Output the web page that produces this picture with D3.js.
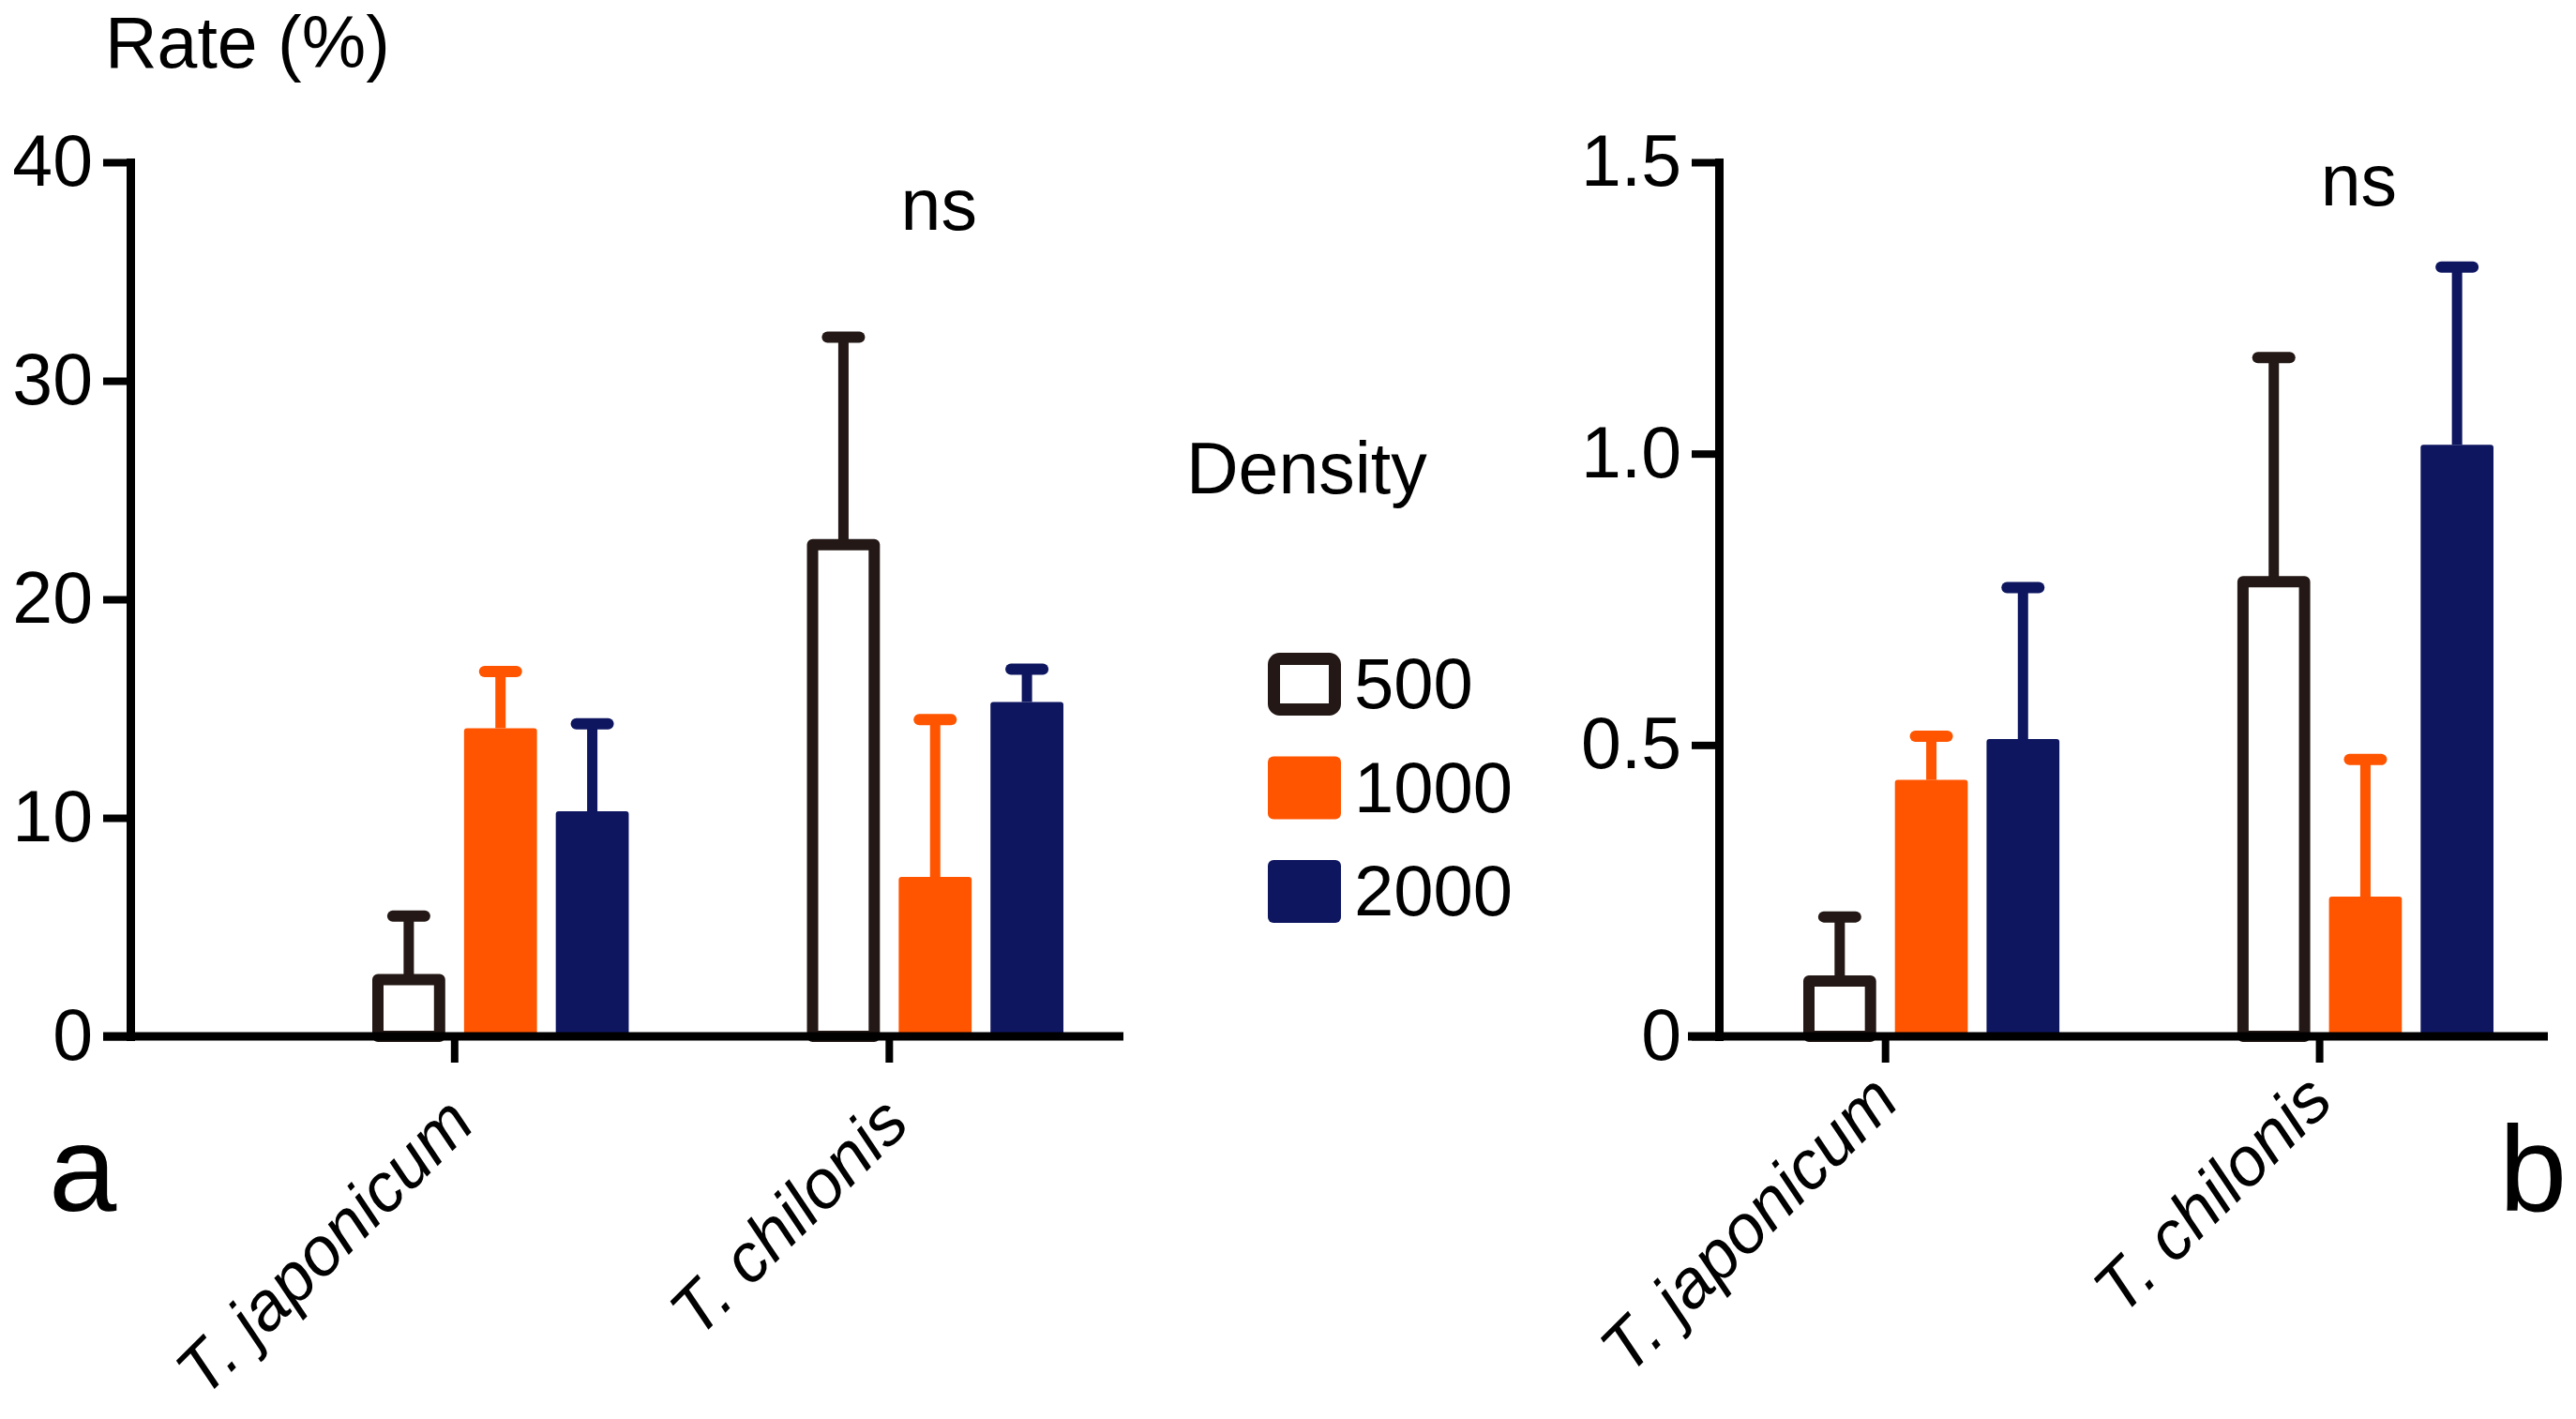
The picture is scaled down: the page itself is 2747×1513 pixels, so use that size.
<!DOCTYPE html>
<html lang="en">
<head>
<meta charset="UTF-8">
<title>Rate (%) by density</title>
<script src="https://d3js.org/d3.v7.min.js"></script>
<style>
  body { margin: 0; background: #fff; }
  svg { display: block; font-family: "Liberation Sans", Arial, sans-serif; }
</style>
</head>
<body>
<svg id="chart" width="2747" height="1513"></svg>
<script>
// species on the x axis, release densities as the grouped series
const categories = ["T. japonicum", "T. chilonis"];
const densities = ["500", "1000", "2000"];

// panel a: rows = categories, columns = densities (mean and upper error)
const meanA = [[2.6, 14.1, 10.3], [22.5, 7.3, 15.3]];
const errA  = [[2.9, 2.6, 4.0], [9.5, 7.2, 1.5]];
const ticksA = [0, 10, 20, 30, 40];
const tickLabelsA = ["0", "10", "20", "30", "40"];

// panel b
const meanB = [[0.095, 0.44, 0.51], [0.78, 0.24, 1.015]];
const errB  = [[0.11, 0.075, 0.26], [0.385, 0.235, 0.305]];
const ticksB = [0, 0.5, 1.0, 1.5];
const tickLabelsB = ["0", "0.5", "1.0", "1.5"];

const ink = "#231815";
const fills = { "500": "#ffffff", "1000": "#ff5500", "2000": "#0e1660" };
const strokes = { "500": ink, "1000": "#ff5500", "2000": "#0e1660" };

const svg = d3.select("#chart");

function drawPanel(p) {
    const g = svg.append("g");

    const y = d3.scaleLinear().domain([0, p.ticks[p.ticks.length - 1]]).range([p.y0, p.yTop]);
    const x0 = d3.scaleBand().domain(categories).range(p.groupRange).paddingInner(0.41);
    const x1 = d3.scaleBand().domain(densities).range([0, x0.bandwidth()]).paddingInner(0.205);

    const rows = [];
    categories.forEach((c, i) => {
        densities.forEach((d, j) => {
            rows.push({ cat: c, dens: d, mean: p.mean[i][j], err: p.err[i][j] });
        });
    });

    // error bars (upper only)
    const eb = g.append("g");
    eb.selectAll("line.stem")
        .data(rows)
        .enter().append("line")
        .attr("class", "stem")
        .attr("x1", d => x0(d.cat) + x1(d.dens) + x1.bandwidth() / 2)
        .attr("x2", d => x0(d.cat) + x1(d.dens) + x1.bandwidth() / 2)
        .attr("y1", d => y(d.mean))
        .attr("y2", d => y(d.mean + d.err))
        .attr("stroke", d => strokes[d.dens])
        .attr("stroke-width", 11);
    eb.selectAll("line.cap")
        .data(rows)
        .enter().append("line")
        .attr("class", "cap")
        .attr("x1", d => x0(d.cat) + x1(d.dens) + x1.bandwidth() / 2 - 17)
        .attr("x2", d => x0(d.cat) + x1(d.dens) + x1.bandwidth() / 2 + 17)
        .attr("y1", d => y(d.mean + d.err))
        .attr("y2", d => y(d.mean + d.err))
        .attr("stroke", d => strokes[d.dens])
        .attr("stroke-width", 12)
        .attr("stroke-linecap", "round");

    // bars
    const sw = 12;
    g.selectAll("rect.bar")
        .data(rows)
        .enter().append("rect")
        .attr("class", "bar")
        .attr("x", d => x0(d.cat) + x1(d.dens) + (d.dens === "500" ? sw / 2 : 0))
        .attr("width", d => x1.bandwidth() - (d.dens === "500" ? sw : 0))
        .attr("y", d => y(d.mean))
        .attr("height", d => p.y0 - y(d.mean))
        .attr("rx", d => d.dens === "500" ? 0 : 3)
        .attr("fill", d => fills[d.dens])
        .attr("stroke", d => d.dens === "500" ? ink : "none")
        .attr("stroke-width", sw)
        .attr("stroke-linejoin", "round");

    // y axis
    const yAxis = g.append("g")
        .attr("transform", `translate(${p.yAxisX},0)`)
        .call(d3.axisLeft(y)
            .tickValues(p.ticks)
            .tickFormat((d, i) => p.tickLabels[i])
            .tickSizeInner(29)
            .tickSizeOuter(0)
            .tickPadding(11));
    yAxis.select(".domain")
        .attr("stroke", "#000")
        .attr("stroke-width", 9)
        .attr("stroke-linecap", "square");
    yAxis.selectAll(".tick line").attr("stroke", "#000").attr("stroke-width", 8);
    yAxis.selectAll(".tick text")
        .attr("fill", "#000")
        .style("font-size", "77px")
        .style("font-family", "'Liberation Sans', Arial, sans-serif");

    // x axis baseline
    g.append("line")
        .attr("x1", p.xStart).attr("x2", p.xEnd)
        .attr("y1", p.y0).attr("y2", p.y0)
        .attr("stroke", "#000")
        .attr("stroke-width", 9);

    // category ticks sit between the first and second bar of each group
    const tickShift = x1.bandwidth() + x1.step() * 0.205 / 2 - x0.bandwidth() / 2;
    const xAxis = g.append("g")
        .attr("transform", `translate(${tickShift},${p.y0})`)
        .call(d3.axisBottom(x0).tickSizeInner(28).tickSizeOuter(0));
    xAxis.select(".domain").remove();
    xAxis.selectAll(".tick line").attr("stroke", "#000").attr("stroke-width", 8);
    xAxis.selectAll(".tick text")
        .attr("x", 0).attr("y", 0).attr("dy", 0)
        .attr("transform", `translate(${p.labelDx},${p.labelDy}) rotate(-45)`)
        .attr("text-anchor", "end")
        .attr("fill", "#000")
        .style("font-size", "73px")
        .style("font-style", "italic")
        .style("font-family", "'Liberation Sans', Arial, sans-serif");

    // significance mark over the second group
    g.append("text")
        .attr("x", x0(categories[1]) + x0.bandwidth() / 2 + p.nsDx)
        .attr("y", p.nsY)
        .attr("text-anchor", "middle")
        .style("font-size", "77px")
        .text("ns");

    // panel letter
    g.append("text")
        .attr("x", p.letterX)
        .attr("y", 1291)
        .style("font-size", "130px")
        .text(p.letter);
}

drawPanel({
    mean: meanA, err: errA, ticks: ticksA, tickLabels: tickLabelsA,
    y0: 1105, yTop: 173, yAxisX: 139, xStart: 110, xEnd: 1198,
    groupRange: [397, 1134], labelDx: 24, labelDy: 96,
    nsY: 245, nsDx: 4, letter: "a", letterX: 52
});

drawPanel({
    mean: meanB, err: errB, ticks: ticksB, tickLabels: tickLabelsB,
    y0: 1105, yTop: 173, yAxisX: 1833, xStart: 1800, xEnd: 2717,
    groupRange: [1923, 2659], labelDx: 17, labelDy: 72,
    nsY: 219, nsDx: -7, letter: "b", letterX: 2665
});

// y title
svg.append("text")
    .attr("x", 112).attr("y", 72)
    .style("font-size", "77px")
    .text("Rate (%)");

// legend
svg.append("text")
    .attr("x", 1265).attr("y", 526)
    .style("font-size", "77px")
    .text("Density");

const legend = svg.append("g").attr("transform", "translate(1352,696)");
const item = legend.selectAll("g")
    .data(densities)
    .enter().append("g")
    .attr("transform", (d, i) => `translate(0,${i * 110.5})`);
item.append("rect")
    .attr("x", d => d === "500" ? 6.5 : 0)
    .attr("y", d => d === "500" ? 6.5 : 0)
    .attr("width", d => d === "500" ? 65 : 78)
    .attr("height", d => d === "500" ? 54 : 67)
    .attr("rx", 6)
    .attr("fill", d => fills[d])
    .attr("stroke", d => d === "500" ? ink : "none")
    .attr("stroke-width", 13);
item.append("text")
    .attr("x", 92)
    .attr("y", 59)
    .style("font-size", "76px")
    .text(d => d);
</script>
</body>
</html>
